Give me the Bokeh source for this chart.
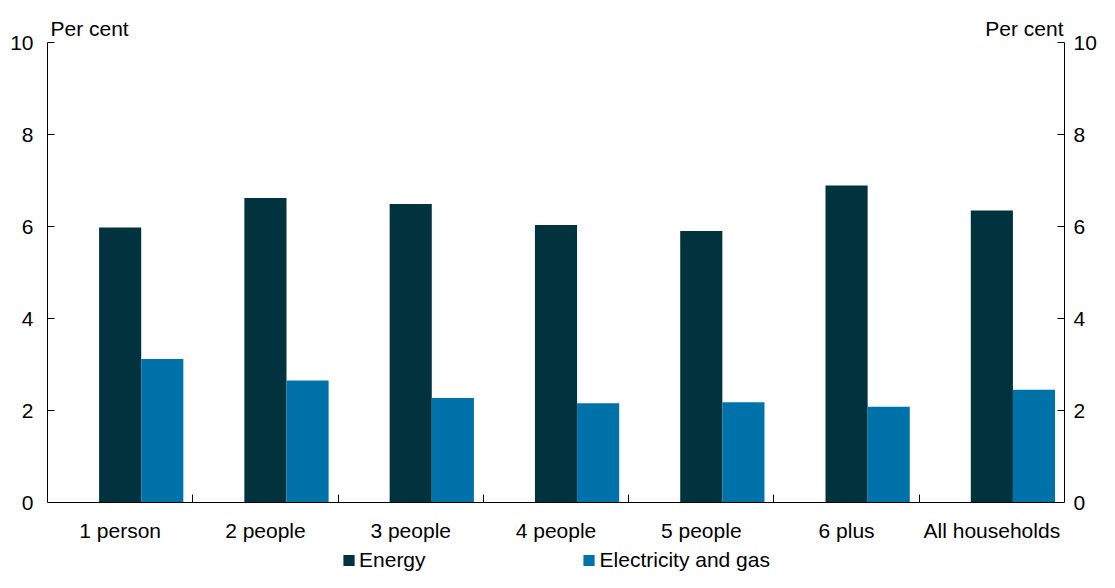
import numpy as np
from bokeh.plotting import figure
from bokeh.models import Range1d, LinearAxis, FixedTicker, Label, Legend, LegendItem, ColumnDataSource
from bokeh.embed import file_html
from bokeh.resources import INLINE

categories = ["1 person", "2 people", "3 people", "4 people", "5 people", "6 plus", "All households"]
energy = [5.98, 6.62, 6.49, 6.03, 5.90, 6.89, 6.35]
elec_gas = [3.12, 2.65, 2.27, 2.16, 2.18, 2.08, 2.45]
y_ticks = [0, 2, 4, 6, 8, 10]

C_ENERGY = "#00333D"
C_ELEC = "#0072AA"
FONT = "Liberation Sans"
FS = "21px"

n = len(categories)
centers = np.arange(n) + 0.5
bar_w = 0.29

# vertical layout (pixels); the frame spans the whole height
H = 572
Y10_PX = 42      # where y=10 sits
Y0_PX = 502      # where y=0 sits
px_per_unit = (Y0_PX - Y10_PX) / 10.0
y_top = 10 + Y10_PX / px_per_unit
y_bot = -(H - Y0_PX) / px_per_unit

src = ColumnDataSource(dict(x1=centers, x2=centers + bar_w, energy=energy, elec=elec_gas))

p = figure(width=1099, height=H, output_backend="svg", toolbar_location=None,
           x_range=Range1d(0, n), y_range=Range1d(y_bot, y_top),
           x_axis_type=None, y_axis_type=None,
           min_border_left=47, min_border_right=0, min_border_top=0, min_border_bottom=0)
p.outline_line_color = None
p.xgrid.visible = False
p.ygrid.visible = False

r1 = p.vbar(x="x1", top="energy", width=bar_w, source=src, fill_color=C_ENERGY, line_color=None)
r2 = p.vbar(x="x2", top="elec", width=bar_w, source=src, fill_color=C_ELEC, line_color=None)

def style_y(ax, standoff):
    ax.ticker = FixedTicker(ticks=y_ticks, minor_ticks=[])
    ax.bounds = (0, 10)
    ax.major_tick_in = 7
    ax.major_tick_out = 0
    ax.minor_tick_line_color = None
    ax.axis_line_color = "black"
    ax.major_tick_line_color = "black"
    ax.major_label_text_font = FONT
    ax.major_label_text_font_size = FS
    ax.major_label_text_color = "black"
    ax.major_label_standoff = standoff

yl = LinearAxis()
style_y(yl, 14)
p.add_layout(yl, "left")
yr = LinearAxis()
style_y(yr, 9)
p.add_layout(yr, "right")

xa = LinearAxis(fixed_location=0)
xa.ticker = FixedTicker(ticks=list(centers), minor_ticks=list(range(1, n)))
xa.major_label_overrides = {float(c): lab for c, lab in zip(centers, categories)}
xa.major_tick_line_color = None
xa.minor_tick_in = 8
xa.minor_tick_out = 0
xa.minor_tick_line_color = "black"
xa.axis_line_color = "black"
xa.major_label_text_font = FONT
xa.major_label_text_font_size = FS
xa.major_label_text_color = "black"
xa.major_label_standoff = 10
p.add_layout(xa, "below")

p.add_layout(Label(x=0, y=10, x_offset=3, y_offset=14, text="Per cent", text_font=FONT,
                   text_font_size=FS, text_baseline="alphabetic", text_align="left",
                   text_color="black"))
p.add_layout(Label(x=n, y=10, x_offset=-1, y_offset=14, text="Per cent", text_font=FONT,
                   text_font_size=FS, text_baseline="alphabetic", text_align="right",
                   text_color="black"))

legend = Legend(items=[LegendItem(label="Energy", renderers=[r1]),
                       LegendItem(label="Electricity and gas", renderers=[r2])],
                orientation="horizontal", location="bottom_center",
                glyph_width=14, glyph_height=14, label_standoff=4, spacing=156,
                padding=0, margin=0, border_line_color=None, background_fill_alpha=0,
                label_text_font=FONT, label_text_font_size=FS, label_text_color="black")
p.add_layout(legend)

open("out.html", "w").write(file_html(p, INLINE))
